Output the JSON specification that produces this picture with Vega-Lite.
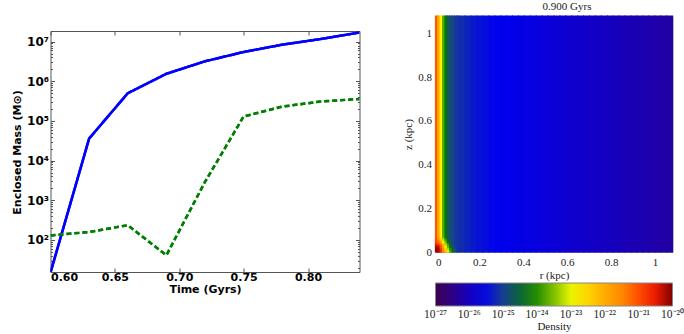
{
  "$schema": "https://vega.github.io/schema/vega-lite/v6.json",
  "padding": {"left": 11.5, "top": 0, "right": 0, "bottom": 0},
  "background": "white",
  "spacing": 41,
  "config": {"axis": {"grid": false}},
  "datasets": {
    "mass": [
      {"time": 0.60, "mass": 15, "series": "total"},
      {"time": 0.63, "mass": 36000, "series": "total"},
      {"time": 0.66, "mass": 500000, "series": "total"},
      {"time": 0.69, "mass": 1550000, "series": "total"},
      {"time": 0.72, "mass": 3200000, "series": "total"},
      {"time": 0.75, "mass": 5500000, "series": "total"},
      {"time": 0.78, "mass": 8400000, "series": "total"},
      {"time": 0.81, "mass": 11700000, "series": "total"},
      {"time": 0.84, "mass": 17000000, "series": "total"},
      {"time": 0.60, "mass": 130, "series": "dense"},
      {"time": 0.63, "mass": 158, "series": "dense"},
      {"time": 0.66, "mass": 235, "series": "dense"},
      {"time": 0.69, "mass": 41, "series": "dense"},
      {"time": 0.72, "mass": 2900, "series": "dense"},
      {"time": 0.75, "mass": 130000, "series": "dense"},
      {"time": 0.78, "mass": 230000, "series": "dense"},
      {"time": 0.81, "mass": 310000, "series": "dense"},
      {"time": 0.84, "mass": 360000, "series": "dense"}
    ],
    "density": [
      {"r0": 0, "r1": 0.0108, "z0": 0, "z1": 0.0108, "logrho": -20.1},
      {"r0": 0.0108, "r1": 0.0216, "z0": 0, "z1": 0.0108, "logrho": -20.2},
      {"r0": 0.0216, "r1": 0.0324, "z0": 0, "z1": 0.0108, "logrho": -20.7},
      {"r0": 0.0324, "r1": 0.0432, "z0": 0, "z1": 0.0108, "logrho": -21.5},
      {"r0": 0.0432, "r1": 0.054, "z0": 0, "z1": 0.0108, "logrho": -22.3},
      {"r0": 0.054, "r1": 0.0648, "z0": 0, "z1": 0.0108, "logrho": -23.0},
      {"r0": 0.0648, "r1": 0.0756, "z0": 0, "z1": 0.0108, "logrho": -23.8},
      {"r0": 0.0756, "r1": 0.0864, "z0": 0, "z1": 0.0108, "logrho": -24.3},
      {"r0": 0.0864, "r1": 0.0972, "z0": 0, "z1": 0.0108, "logrho": -24.8},
      {"r0": 0, "r1": 0.0108, "z0": 0.0108, "z1": 0.0216, "logrho": -20.1},
      {"r0": 0.0108, "r1": 0.0216, "z0": 0.0108, "z1": 0.0216, "logrho": -20.2},
      {"r0": 0.0216, "r1": 0.0324, "z0": 0.0108, "z1": 0.0216, "logrho": -20.8},
      {"r0": 0.0324, "r1": 0.0432, "z0": 0.0108, "z1": 0.0216, "logrho": -21.6},
      {"r0": 0.0432, "r1": 0.054, "z0": 0.0108, "z1": 0.0216, "logrho": -22.5},
      {"r0": 0.054, "r1": 0.0648, "z0": 0.0108, "z1": 0.0216, "logrho": -23.3},
      {"r0": 0.0648, "r1": 0.0756, "z0": 0.0108, "z1": 0.0216, "logrho": -24.0},
      {"r0": 0.0756, "r1": 0.0864, "z0": 0.0108, "z1": 0.0216, "logrho": -24.5},
      {"r0": 0.0864, "r1": 0.0972, "z0": 0.0108, "z1": 0.0216, "logrho": -24.9},
      {"r0": 0, "r1": 0.0108, "z0": 0.0216, "z1": 0.0324, "logrho": -20.2},
      {"r0": 0.0108, "r1": 0.0216, "z0": 0.0216, "z1": 0.0324, "logrho": -20.3},
      {"r0": 0.0216, "r1": 0.0324, "z0": 0.0216, "z1": 0.0324, "logrho": -21.0},
      {"r0": 0.0324, "r1": 0.0432, "z0": 0.0216, "z1": 0.0324, "logrho": -21.9},
      {"r0": 0.0432, "r1": 0.054, "z0": 0.0216, "z1": 0.0324, "logrho": -22.8},
      {"r0": 0.054, "r1": 0.0648, "z0": 0.0216, "z1": 0.0324, "logrho": -23.6},
      {"r0": 0.0648, "r1": 0.0756, "z0": 0.0216, "z1": 0.0324, "logrho": -24.2},
      {"r0": 0.0756, "r1": 0.0864, "z0": 0.0216, "z1": 0.0324, "logrho": -24.7},
      {"r0": 0.0864, "r1": 0.0972, "z0": 0.0216, "z1": 0.0324, "logrho": -25.0},
      {"r0": 0, "r1": 0.0108, "z0": 0.0324, "z1": 0.0432, "logrho": -20.6},
      {"r0": 0.0108, "r1": 0.0216, "z0": 0.0324, "z1": 0.0432, "logrho": -20.8},
      {"r0": 0.0216, "r1": 0.0324, "z0": 0.0324, "z1": 0.0432, "logrho": -21.4},
      {"r0": 0.0324, "r1": 0.0432, "z0": 0.0324, "z1": 0.0432, "logrho": -22.3},
      {"r0": 0.0432, "r1": 0.054, "z0": 0.0324, "z1": 0.0432, "logrho": -23.2},
      {"r0": 0.054, "r1": 0.0648, "z0": 0.0324, "z1": 0.0432, "logrho": -23.9},
      {"r0": 0.0648, "r1": 0.0756, "z0": 0.0324, "z1": 0.0432, "logrho": -24.4},
      {"r0": 0.0756, "r1": 0.0864, "z0": 0.0324, "z1": 0.0432, "logrho": -24.9},
      {"r0": 0.0864, "r1": 0.0972, "z0": 0.0324, "z1": 0.0432, "logrho": -25.05},
      {"r0": 0, "r1": 0.0108, "z0": 0.0432, "z1": 0.054, "logrho": -20.9},
      {"r0": 0.0108, "r1": 0.0216, "z0": 0.0432, "z1": 0.054, "logrho": -21.3},
      {"r0": 0.0216, "r1": 0.0324, "z0": 0.0432, "z1": 0.054, "logrho": -21.9},
      {"r0": 0.0324, "r1": 0.0432, "z0": 0.0432, "z1": 0.054, "logrho": -22.8},
      {"r0": 0.0432, "r1": 0.054, "z0": 0.0432, "z1": 0.054, "logrho": -23.6},
      {"r0": 0.054, "r1": 0.0648, "z0": 0.0432, "z1": 0.054, "logrho": -24.2},
      {"r0": 0.0648, "r1": 0.0756, "z0": 0.0432, "z1": 0.054, "logrho": -24.7},
      {"r0": 0.0756, "r1": 0.0864, "z0": 0.0432, "z1": 0.054, "logrho": -24.95},
      {"r0": 0.0864, "r1": 0.0972, "z0": 0.0432, "z1": 0.054, "logrho": -25.05},
      {"r0": 0, "r1": 0.0108, "z0": 0.054, "z1": 0.0648, "logrho": -21.0},
      {"r0": 0.0108, "r1": 0.0216, "z0": 0.054, "z1": 0.0648, "logrho": -21.7},
      {"r0": 0.0216, "r1": 0.0324, "z0": 0.054, "z1": 0.0648, "logrho": -22.4},
      {"r0": 0.0324, "r1": 0.0432, "z0": 0.054, "z1": 0.0648, "logrho": -23.2},
      {"r0": 0.0432, "r1": 0.054, "z0": 0.054, "z1": 0.0648, "logrho": -23.9},
      {"r0": 0.054, "r1": 0.0648, "z0": 0.054, "z1": 0.0648, "logrho": -24.5},
      {"r0": 0.0648, "r1": 0.0756, "z0": 0.054, "z1": 0.0648, "logrho": -24.85},
      {"r0": 0.0756, "r1": 0.0864, "z0": 0.054, "z1": 0.0648, "logrho": -24.95},
      {"r0": 0.0864, "r1": 0.0972, "z0": 0.054, "z1": 0.0648, "logrho": -25.05},
      {"r0": 0, "r1": 0.0108, "z0": 0.0648, "z1": 0.0756, "logrho": -21.1},
      {"r0": 0.0108, "r1": 0.0216, "z0": 0.0648, "z1": 0.0756, "logrho": -21.9},
      {"r0": 0.0216, "r1": 0.0324, "z0": 0.0648, "z1": 0.0756, "logrho": -22.7},
      {"r0": 0.0324, "r1": 0.0432, "z0": 0.0648, "z1": 0.0756, "logrho": -23.6},
      {"r0": 0.0432, "r1": 0.054, "z0": 0.0648, "z1": 0.0756, "logrho": -24.2},
      {"r0": 0.054, "r1": 0.0648, "z0": 0.0648, "z1": 0.0756, "logrho": -24.65},
      {"r0": 0.0648, "r1": 0.0756, "z0": 0.0648, "z1": 0.0756, "logrho": -24.85},
      {"r0": 0.0756, "r1": 0.0864, "z0": 0.0648, "z1": 0.0756, "logrho": -24.95},
      {"r0": 0.0864, "r1": 0.0972, "z0": 0.0648, "z1": 0.0756, "logrho": -25.05},
      {"r0": 0, "r1": 0.0108, "z0": 0.0756, "z1": 1.08, "logrho": -21.1},
      {"r0": 0.0108, "r1": 0.0216, "z0": 0.0756, "z1": 1.08, "logrho": -22.0},
      {"r0": 0.0216, "r1": 0.0324, "z0": 0.0756, "z1": 1.08, "logrho": -22.8},
      {"r0": 0.0324, "r1": 0.0432, "z0": 0.0756, "z1": 1.08, "logrho": -23.7},
      {"r0": 0.0432, "r1": 0.054, "z0": 0.0756, "z1": 1.08, "logrho": -24.25},
      {"r0": 0.054, "r1": 0.0648, "z0": 0.0756, "z1": 1.08, "logrho": -24.65},
      {"r0": 0.0648, "r1": 0.0756, "z0": 0.0756, "z1": 1.08, "logrho": -24.85},
      {"r0": 0.0756, "r1": 0.0864, "z0": 0.0756, "z1": 1.08, "logrho": -24.95},
      {"r0": 0.0864, "r1": 0.0972, "z0": 0.0756, "z1": 1.08, "logrho": -25.05},
      {"r0": 0.0972, "r1": 0.108, "z0": 0, "z1": 1.08, "logrho": -25.1},
      {"r0": 0.108, "r1": 0.135, "z0": 0, "z1": 1.08, "logrho": -25.18},
      {"r0": 0.135, "r1": 0.162, "z0": 0, "z1": 1.08, "logrho": -25.28},
      {"r0": 0.162, "r1": 0.189, "z0": 0, "z1": 1.08, "logrho": -25.36},
      {"r0": 0.189, "r1": 0.216, "z0": 0, "z1": 1.08, "logrho": -25.43},
      {"r0": 0.216, "r1": 0.243, "z0": 0, "z1": 1.08, "logrho": -25.49},
      {"r0": 0.243, "r1": 0.27, "z0": 0, "z1": 1.08, "logrho": -25.54},
      {"r0": 0.27, "r1": 0.297, "z0": 0, "z1": 1.08, "logrho": -25.58},
      {"r0": 0.297, "r1": 0.324, "z0": 0, "z1": 1.08, "logrho": -25.62},
      {"r0": 0.324, "r1": 0.351, "z0": 0, "z1": 1.08, "logrho": -25.642},
      {"r0": 0.351, "r1": 0.378, "z0": 0, "z1": 1.08, "logrho": -25.664},
      {"r0": 0.378, "r1": 0.405, "z0": 0, "z1": 1.08, "logrho": -25.685},
      {"r0": 0.405, "r1": 0.432, "z0": 0, "z1": 1.08, "logrho": -25.707},
      {"r0": 0.432, "r1": 0.459, "z0": 0, "z1": 1.08, "logrho": -25.729},
      {"r0": 0.459, "r1": 0.486, "z0": 0, "z1": 1.08, "logrho": -25.751},
      {"r0": 0.486, "r1": 0.513, "z0": 0, "z1": 1.08, "logrho": -25.772},
      {"r0": 0.513, "r1": 0.54, "z0": 0, "z1": 1.08, "logrho": -25.794},
      {"r0": 0.54, "r1": 0.567, "z0": 0, "z1": 1.08, "logrho": -25.816},
      {"r0": 0.567, "r1": 0.594, "z0": 0, "z1": 1.08, "logrho": -25.838},
      {"r0": 0.594, "r1": 0.621, "z0": 0, "z1": 1.08, "logrho": -25.86},
      {"r0": 0.621, "r1": 0.648, "z0": 0, "z1": 1.08, "logrho": -25.881},
      {"r0": 0.648, "r1": 0.675, "z0": 0, "z1": 1.08, "logrho": -25.903},
      {"r0": 0.675, "r1": 0.702, "z0": 0, "z1": 1.08, "logrho": -25.925},
      {"r0": 0.702, "r1": 0.729, "z0": 0, "z1": 1.08, "logrho": -25.947},
      {"r0": 0.729, "r1": 0.756, "z0": 0, "z1": 1.08, "logrho": -25.968},
      {"r0": 0.756, "r1": 0.783, "z0": 0, "z1": 1.08, "logrho": -25.99},
      {"r0": 0.783, "r1": 0.81, "z0": 0, "z1": 1.08, "logrho": -26.012},
      {"r0": 0.81, "r1": 0.837, "z0": 0, "z1": 1.08, "logrho": -26.034},
      {"r0": 0.837, "r1": 0.864, "z0": 0, "z1": 1.08, "logrho": -26.056},
      {"r0": 0.864, "r1": 0.891, "z0": 0, "z1": 1.08, "logrho": -26.077},
      {"r0": 0.891, "r1": 0.918, "z0": 0, "z1": 1.08, "logrho": -26.099},
      {"r0": 0.918, "r1": 0.945, "z0": 0, "z1": 1.08, "logrho": -26.121},
      {"r0": 0.945, "r1": 0.972, "z0": 0, "z1": 1.08, "logrho": -26.143},
      {"r0": 0.972, "r1": 0.999, "z0": 0, "z1": 1.08, "logrho": -26.164},
      {"r0": 0.999, "r1": 1.026, "z0": 0, "z1": 1.08, "logrho": -26.186},
      {"r0": 1.026, "r1": 1.053, "z0": 0, "z1": 1.08, "logrho": -26.208},
      {"r0": 1.053, "r1": 1.08, "z0": 0, "z1": 1.08, "logrho": -26.23}
    ]
  },
  "hconcat": [
    {
      "width": 309,
      "height": 256,
      "view": {"stroke": null},
      "data": {"name": "mass"},
      "encoding": {
        "color": {"field": "series", "type": "nominal", "scale": {"domain": ["total", "dense"], "range": ["#0000ff", "#008000"]}, "legend": null},
        "strokeDash": {"field": "series", "type": "nominal", "scale": {"domain": ["total", "dense"], "range": [[1, 0], [5, 3]]}, "legend": null}
      },
      "layer": [
        {
          "mark": {"type": "line", "strokeWidth": 2.5, "clip": true},
          "encoding": {
            "x": {
              "field": "time", "type": "quantitative",
              "scale": {"domain": [0.6, 0.84], "nice": false, "zero": false},
              "axis": {
                "title": "Time (Gyrs)", "values": [0.6, 0.65, 0.7, 0.75, 0.8], "format": ".2f",
                "labelFont": "DejaVu Sans", "labelFontWeight": "bold", "labelFontSize": 11, "labelColor": "#000",
                "titleFont": "DejaVu Sans", "titleFontWeight": "bold", "titleFontSize": 11, "titleColor": "#000", "titlePadding": 1,
                "tickSize": -4, "tickColor": "#555", "domain": true, "domainColor": "#555", "labelPadding": 3
              }
            },
            "y": {
              "field": "mass", "type": "quantitative",
              "scale": {"type": "log", "domain": [15.5, 18600000], "nice": false, "range": [256, 15]},
              "axis": {
                "title": "Enclosed Mass (M⊙)", "titleY": 136,
                "values": [20,30,40,50,60,70,80,90,100,200,300,400,500,600,700,800,900,1000,2000,3000,4000,5000,6000,7000,8000,9000,10000,20000,30000,40000,50000,60000,70000,80000,90000,100000,200000,300000,400000,500000,600000,700000,800000,900000,1000000,2000000,3000000,4000000,5000000,6000000,7000000,8000000,9000000,10000000],
                "labelExpr": "abs(log(datum.value)/LN10 - round(log(datum.value)/LN10)) < 0.001 ? '10' + ['⁰','¹','²','³','⁴','⁵','⁶','⁷','⁸'][round(log(datum.value)/LN10)] : ''",
                "tickSize": {"condition": {"test": "abs(log(datum.value)/LN10 - round(log(datum.value)/LN10)) < 0.001", "value": -4}, "value": -2},
                "labelFont": "DejaVu Sans", "labelFontWeight": "bold", "labelFontSize": 12, "labelColor": "#000",
                "titleFont": "DejaVu Sans", "titleFontWeight": "bold", "titleFontSize": 11, "titleColor": "#000",
                "tickColor": "#555", "domain": true, "domainColor": "#555", "labelPadding": 6, "labelOverlap": false
              }
            }
          }
        },
        {
          "mark": {"type": "line", "strokeWidth": 2.5, "clip": true},
          "encoding": {
            "x": {
              "field": "time", "type": "quantitative",
              "scale": {"domain": [0.6, 0.84], "nice": false, "zero": false},
              "axis": {
                "orient": "top", "title": null, "labels": false, "values": [0.6, 0.65, 0.7, 0.75, 0.8], "offset": -15,
                "tickSize": -4, "tickColor": "#555", "domain": true, "domainColor": "#555"
              }
            },
            "y": {
              "field": "mass", "type": "quantitative",
              "scale": {"type": "log", "domain": [15.5, 18600000], "nice": false, "range": [256, 15]},
              "axis": {
                "orient": "right", "title": null, "labels": false,
                "values": [20,30,40,50,60,70,80,90,100,200,300,400,500,600,700,800,900,1000,2000,3000,4000,5000,6000,7000,8000,9000,10000,20000,30000,40000,50000,60000,70000,80000,90000,100000,200000,300000,400000,500000,600000,700000,800000,900000,1000000,2000000,3000000,4000000,5000000,6000000,7000000,8000000,9000000,10000000],
                "tickSize": {"condition": {"test": "abs(log(datum.value)/LN10 - round(log(datum.value)/LN10)) < 0.001", "value": -4}, "value": -2},
                "tickColor": "#555", "domain": true, "domainColor": "#555", "minExtent": 0, "maxExtent": 0
              }
            }
          }
        }
      ],
      "resolve": {"axis": {"x": "independent", "y": "independent"}}
    },
    {
      "width": 237,
      "height": 236,
      "view": {"stroke": "#999"},
      "title": {"text": "0.900 Gyrs", "font": "Liberation Serif", "fontSize": 11, "fontWeight": "normal", "color": "#222", "offset": 3, "dx": 13},
      "data": {"name": "density"},
      "mark": {"type": "rect", "strokeWidth": 1.2},
      "encoding": {
        "x": {
          "field": "r0", "type": "quantitative",
          "scale": {"domain": [0, 1.08], "nice": false},
          "axis": {
            "title": "r (kpc)", "values": [0, 0.2, 0.4, 0.6, 0.8, 1],
            "labelExpr": "datum.value == 0 ? '0' : datum.value == 1 ? '1' : format(datum.value, '.1f')",
            "labelFont": "Liberation Serif", "labelFontSize": 11, "labelColor": "#222",
            "titleFont": "Liberation Serif", "titleFontSize": 11, "titleFontWeight": "normal", "titleColor": "#222", "titlePadding": 2,
            "tickSize": -3, "tickColor": "#777", "domain": false, "labelPadding": 7
          }
        },
        "x2": {"field": "r1"},
        "y": {
          "field": "z0", "type": "quantitative",
          "scale": {"domain": [0, 1.08], "nice": false},
          "axis": {
            "title": "z (kpc)", "values": [0, 0.2, 0.4, 0.6, 0.8, 1],
            "labelExpr": "datum.value == 0 ? '0' : datum.value == 1 ? '1' : format(datum.value, '.1f')",
            "labelFont": "Liberation Serif", "labelFontSize": 11, "labelColor": "#222",
            "titleFont": "Liberation Serif", "titleFontSize": 11, "titleFontWeight": "normal", "titleColor": "#222", "titlePadding": 4,
            "tickSize": -3, "tickColor": "#777", "domain": false, "labelPadding": 7
          }
        },
        "y2": {"field": "z1"},
        "color": {
          "field": "logrho", "type": "quantitative",
          "scale": {
            "domain": [-27, -26.4, -25.6, -24.9, -24.2, -23.5, -22.9, -22.3, -21.5, -20.6, -20],
            "range": ["#3c0050", "#2a0090", "#0000f0", "#1a4a80", "#007a00", "#80c000", "#ffff00", "#ffc000", "#ff8800", "#ff2000", "#800000"],
            "interpolate": "rgb"
          },
          "legend": {
            "orient": "none", "legendX": 0, "legendY": 267, "direction": "horizontal",
            "gradientLength": 237, "gradientThickness": 23, "gradientStrokeColor": "#888", "gradientStrokeWidth": 1,
            "values": [-27, -26, -25, -24, -23, -22, -21, -20],
            "labelExpr": "['10⁻²⁷','10⁻²⁶','10⁻²⁵','10⁻²⁴','10⁻²³','10⁻²²','10⁻²¹','10⁻²⁰'][round(datum.value) + 27]",
            "labelFont": "Liberation Serif", "labelFontSize": 11.5, "labelColor": "#222", "labelOverlap": false, "labelOffset": 3,
            "encode": {"labels": {"update": {"align": {"value": "center"}}}},
            "title": "Density", "titleOrient": "bottom", "titleAnchor": "middle", "titleFont": "Liberation Serif", "titleFontSize": 11, "titleFontWeight": "normal", "titleColor": "#222", "titlePadding": 0
          }
        },
        "stroke": {
          "field": "logrho", "type": "quantitative",
          "scale": {
            "domain": [-27, -26.4, -25.6, -24.9, -24.2, -23.5, -22.9, -22.3, -21.5, -20.6, -20],
            "range": ["#3c0050", "#2a0090", "#0000f0", "#1a4a80", "#007a00", "#80c000", "#ffff00", "#ffc000", "#ff8800", "#ff2000", "#800000"],
            "interpolate": "rgb"
          },
          "legend": null
        }
      }
    }
  ]
}
